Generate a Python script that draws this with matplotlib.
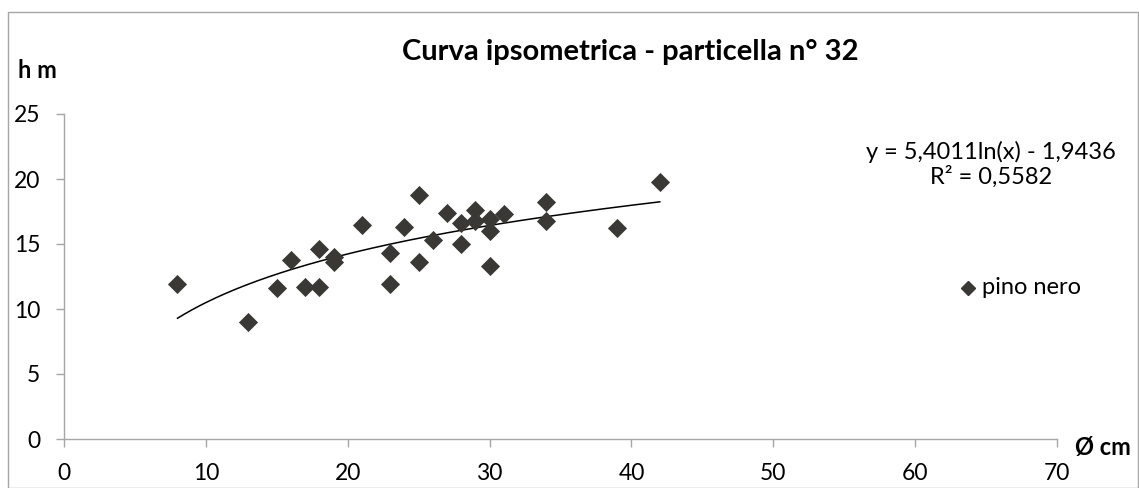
import numpy as np
import matplotlib
matplotlib.use("Agg")
import matplotlib.pyplot as plt
from matplotlib.patches import Rectangle

plt.rcParams['font.family'] = ['Lato', 'DejaVu Sans']

# diametro (cm) e altezza (m) - pino nero
diam = [8, 13, 15, 16, 17, 18, 18, 19, 19, 21, 23, 23, 24, 25, 25, 26,
        27, 28, 28, 29, 29, 30, 30, 30, 31, 34, 34, 39, 42]
height = [11.9, 9.0, 11.6, 13.8, 11.7, 11.7, 14.6, 14.0, 13.6, 16.5, 14.3, 11.9, 16.3, 13.6, 18.8, 15.3,
          17.4, 16.6, 15.0, 17.6, 16.8, 16.9, 16.0, 13.3, 17.3, 18.2, 16.8, 16.2, 19.8]

# coefficienti della linea di tendenza logaritmica
coef_a = 5.4011
coef_b = -1.9436
r2 = 0.5582

xticks = [0, 10, 20, 30, 40, 50, 60, 70]
yticks = [0, 5, 10, 15, 20, 25]

fig = plt.figure(figsize=(11.39, 4.88), dpi=100)
ax = fig.add_axes([64 / 1139, 49 / 488, 993 / 1139, 325 / 488])

# chart border
fig.patches.append(Rectangle((8 / 1139, 0), 1130 / 1139, 476 / 488, transform=fig.transFigure,
                             fill=False, edgecolor='#A6A6A6', linewidth=1))

ax.scatter(diam, height, marker='D', s=95, color='#3A3835', zorder=3, linewidths=0)

xs = np.linspace(min(diam), max(diam), 200)
ax.plot(xs, coef_a * np.log(xs) + coef_b, color='black', linewidth=1.1, zorder=2)

ax.set_xlim(0, 70)
ax.set_ylim(0, 25)
ax.set_xticks(xticks)
ax.set_yticks(yticks)
ax.tick_params(axis='both', labelsize=16.5, color='#A6A6A6', length=6, width=1, pad=11)
for s in ['top', 'right']:
    ax.spines[s].set_visible(False)
for s in ['left', 'bottom']:
    ax.spines[s].set_color('#A6A6A6')
    ax.spines[s].set_linewidth(1)

fig.text(630 / 1139, 1 - 52 / 488, 'Curva ipsometrica - particella n° 32', ha='center', va='center',
         fontsize=21, fontweight='bold')
fig.text(18 / 1139, 1 - 71 / 488, 'h m', ha='left', va='center', fontsize=17, fontweight='bold')
fig.text(1075 / 1139, 1 - 447 / 488, 'Ø cm', ha='left', va='center', fontsize=17, fontweight='bold')

eq = 'y = %sln(x) - %s\nR² = %s' % (f'{coef_a:.4f}'.replace('.', ','),
                                       f'{-coef_b:.4f}'.replace('.', ','),
                                       f'{r2:.4f}'.replace('.', ','))
fig.text(991 / 1139, 1 - 164 / 488, eq, ha='center', va='center', fontsize=17, linespacing=1.15)

# legend
fig.lines.append(plt.Line2D([968 / 1139], [1 - 288 / 488], marker='D', markersize=7, color='#3A3835',
                            linestyle='none', transform=fig.transFigure))
fig.text(982 / 1139, 1 - 288 / 488, 'pino nero', ha='left', va='center', fontsize=17)

fig.savefig('out.png', dpi=100)
